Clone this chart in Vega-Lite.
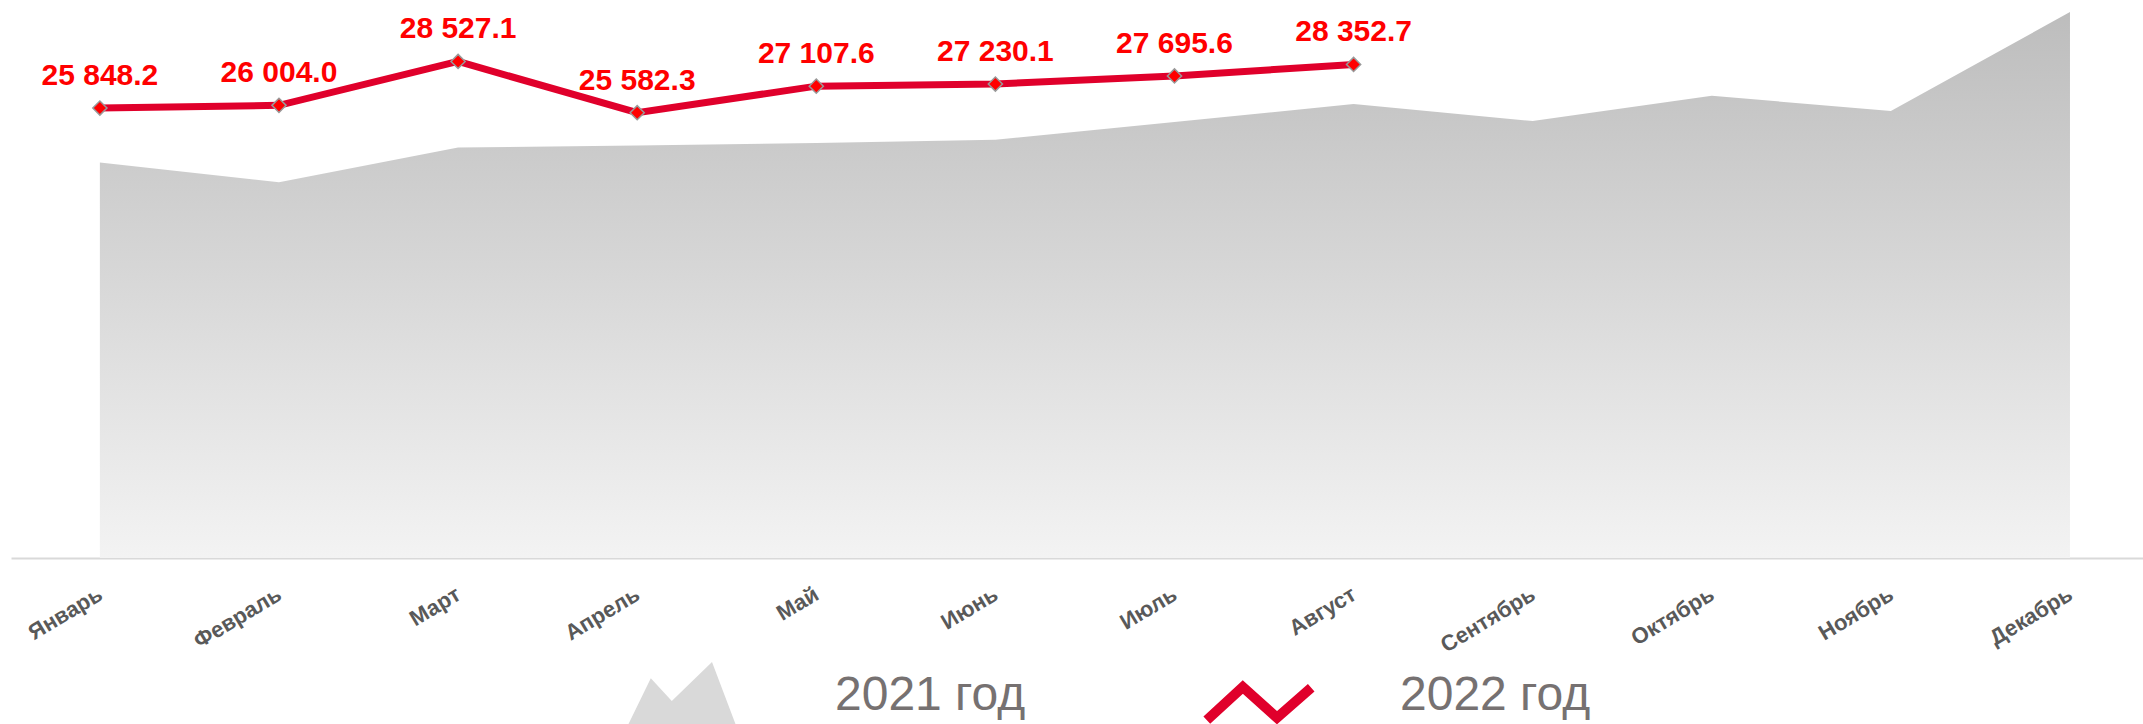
{
  "$schema": "https://vega.github.io/schema/vega-lite/v6.json",
  "width": 2132,
  "height": 557,
  "padding": {"left": 11, "right": 0, "top": 1, "bottom": 166},
  "autosize": {"type": "none"},
  "background": "white",
  "config": {
    "view": {"stroke": null},
    "locale": {"number": {"decimal": ".", "thousands": " ", "grouping": [3], "currency": ["", ""]}}
  },
  "datasets": {
    "y2021": [
      {"month": "Январь", "value": 22720},
      {"month": "Февраль", "value": 21593},
      {"month": "Март", "value": 23582},
      {"month": "Апрель", "value": 23698},
      {"month": "Май", "value": 23835},
      {"month": "Июнь", "value": 24025},
      {"month": "Июль", "value": 25048},
      {"month": "Август", "value": 26078},
      {"month": "Сентябрь", "value": 25100},
      {"month": "Октябрь", "value": 26555},
      {"month": "Ноябрь", "value": 25675},
      {"month": "Декабрь", "value": 31367}
    ],
    "y2022": [
      {"month": "Январь", "value": 25848.2, "series": "2022 год"},
      {"month": "Февраль", "value": 26004.0, "series": "2022 год"},
      {"month": "Март", "value": 28527.1, "series": "2022 год"},
      {"month": "Апрель", "value": 25582.3, "series": "2022 год"},
      {"month": "Май", "value": 27107.6, "series": "2022 год"},
      {"month": "Июнь", "value": 27230.1, "series": "2022 год"},
      {"month": "Июль", "value": 27695.6, "series": "2022 год"},
      {"month": "Август", "value": 28352.7, "series": "2022 год"}
    ]
  },
  "encoding": {
    "x": {
      "field": "month",
      "type": "nominal",
      "sort": null,
      "scale": {
        "type": "point",
        "padding": 0.452,
        "align": 0.549,
        "domain": ["Январь", "Февраль", "Март", "Апрель", "Май", "Июнь", "Июль", "Август", "Сентябрь", "Октябрь", "Ноябрь", "Декабрь"]
      },
      "axis": {
        "title": null,
        "domainColor": "#d9d9d9",
        "domainWidth": 2,
        "ticks": false,
        "grid": false,
        "labelAngle": -31,
        "labelAlign": "right",
        "labelBaseline": "middle",
        "labelPadding": 34,
        "labelFont": "Liberation Sans",
        "labelFontWeight": "bold",
        "labelFontSize": 22,
        "labelColor": "#595959"
      }
    },
    "y": {
      "field": "value",
      "type": "quantitative",
      "scale": {"domain": [0, 32000], "nice": false, "zero": true},
      "axis": null
    }
  },
  "layer": [
    {
      "data": {"name": "y2021"},
      "mark": {
        "type": "area",
        "color": {
          "gradient": "linear",
          "x1": 0, "y1": 0, "x2": 0, "y2": 1,
          "stops": [
            {"offset": 0, "color": "#bdbdbd"},
            {"offset": 1, "color": "#f3f3f3"}
          ]
        }
      }
    },
    {
      "data": {"name": "y2022"},
      "mark": {"type": "line", "strokeWidth": 7, "strokeJoin": "miter"},
      "encoding": {
        "color": {
          "field": "series",
          "type": "nominal",
          "scale": {"domain": ["2021 год", "2022 год"], "range": ["#d9d9d9", "#e0002b"]},
          "legend": {
            "orient": "none",
            "legendX": 653,
            "legendY": 676,
            "direction": "horizontal",
            "title": null,
            "symbolSize": 14400,
            "symbolStrokeWidth": 0,
            "labelOffset": 123,
            "columnPadding": 160,
            "labelFont": "Liberation Sans",
            "labelFontSize": 48,
            "labelColor": "#767171",
            "labelLimit": 0,
            "encode": {
              "labels": {
                "update": {"dy": {"signal": "datum.value === '2022 год' ? -11 : -5"}}
              },
              "symbols": {
                "update": {
                  "shape": {"signal": "datum.value === '2021 год' ? 'M-1.17,0.75L-0.62,-0.38L-0.27,0L0.4,-0.65L0.93,0.75Z' : 'M-0.77,0.22L-0.17,-0.33L0.4,0.18L0.97,-0.32'"},
                  "fill": {"signal": "datum.value === '2021 год' ? '#d9d9d9' : 'transparent'"},
                  "stroke": {"signal": "datum.value === '2021 год' ? 'transparent' : '#e0002b'"},
                  "strokeWidth": {"signal": "datum.value === '2021 год' ? 0 : 10"},
                  "strokeCap": {"value": "butt"},
                  "strokeJoin": {"value": "miter"},
                  "opacity": {"value": 1}
                }
              }
            }
          }
        }
      }
    },
    {
      "data": {"name": "y2022"},
      "mark": {"type": "point", "shape": "diamond", "size": 200, "filled": true, "fill": "#ff0000", "stroke": "#999999", "strokeWidth": 1.5, "opacity": 1}
    },
    {
      "data": {"name": "y2022"},
      "mark": {"type": "text", "font": "Liberation Sans", "fontWeight": "bold", "fontSize": 30, "color": "#ff0000", "baseline": "alphabetic", "align": "center", "dy": -23},
      "encoding": {
        "text": {"field": "value", "type": "quantitative", "format": ",.1f"}
      }
    }
  ]
}
